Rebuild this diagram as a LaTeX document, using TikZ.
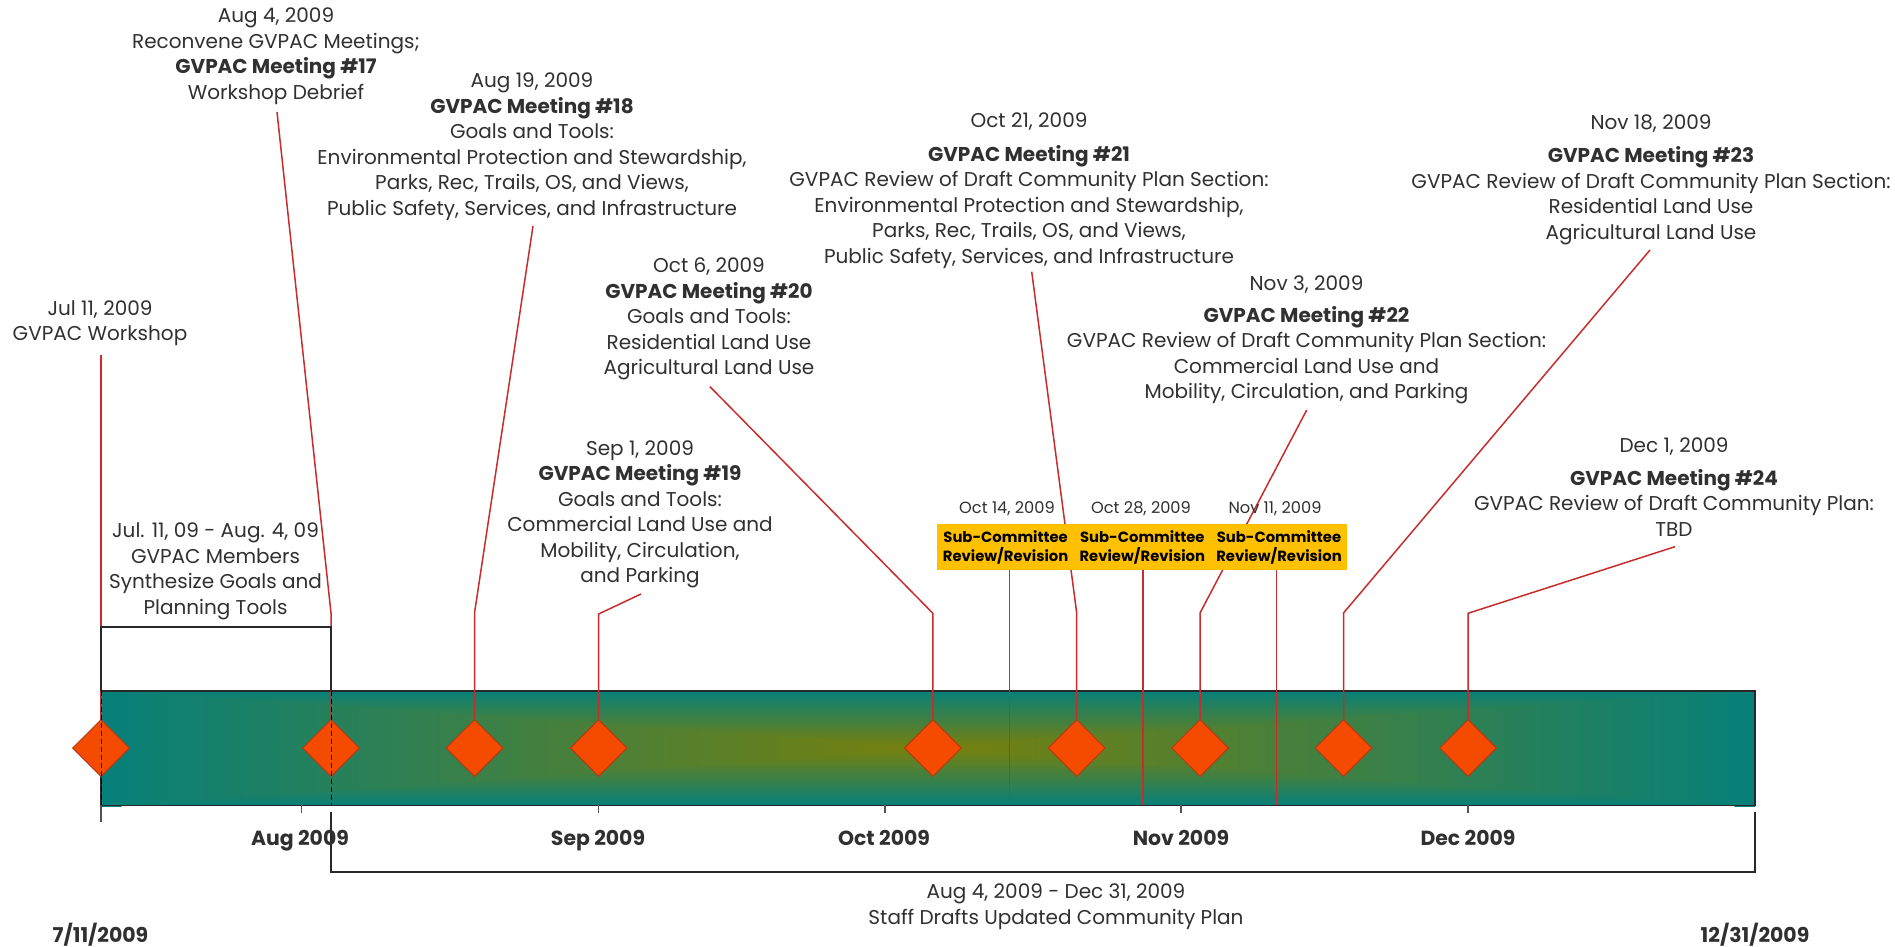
\documentclass[tikz,border=0pt]{standalone}
\usepackage{fontspec}
\setmainfont{Poppins}
\usetikzlibrary{shapes.geometric}
\definecolor{teal0}{RGB}{6,128,122}
\definecolor{olive0}{RGB}{120,128,12}
\definecolor{linered}{RGB}{200,45,45}
\definecolor{diafill}{RGB}{244,75,0}
\definecolor{diaborder}{RGB}{185,55,20}
\definecolor{gold}{RGB}{255,192,0}
\definecolor{txt}{RGB}{48,48,48}
\definecolor{edgecol}{RGB}{40,40,40}
\newcommand{\fsreg}{\fontsize{10}{12.75}\selectfont}
\newcommand{\fssmall}{\fontsize{8.1}{9.4}\selectfont}
\newcommand{\fsboxt}{\fontsize{7.4}{9.4}\selectfont\bfseries}
\newcommand{\fsaxis}{\fontsize{10.2}{12.6}\selectfont\bfseries}
\begin{document}
\begin{tikzpicture}[x=0.5pt,y=-0.5pt,
  blk/.style={align=center,inner sep=0pt,text=txt,font=\fsreg,anchor=north},
  smalllbl/.style={inner sep=0pt,text=txt,font=\fssmall,anchor=base},
  axislbl/.style={inner sep=0pt,text=txt,font=\fsaxis,anchor=base},
  conn/.style={draw=linered,line width=0.75pt},
  diam/.style={diamond,aspect=1,minimum width=28.5pt,minimum height=28.5pt,inner sep=0pt,fill=diafill,draw=diaborder,line width=0.5pt},
  scbox/.style={rectangle,fill=gold,minimum width=68.4pt,minimum height=22.85pt,inner sep=0pt,align=center,font=\fsboxt,text=black},
  bracket/.style={draw=edgecol,line width=1pt},
  tick/.style={draw=edgecol!80,line width=0.6pt},
  dashln/.style={draw=black,line width=0.5pt,dash pattern=on 2.5pt off 1.5pt}]
\useasboundingbox (0,0) rectangle (1895,947);
\fill[white] (0,0) rectangle (1895,947);

% ---- timeline bar: rectangular (path) gradient, teal edges, olive centre
\foreach \i in {0,...,39}{
  \pgfmathsetmacro{\ya}{691+\i*114.7/40}
  \pgfmathsetmacro{\yb}{691+(\i+1)*114.7/40+0.4}
  \pgfmathsetmacro{\aa}{abs((\i+0.5)/20-1)}
  \pgfmathsetmacro{\pp}{100*(1-\aa)}
  \pgfmathsetmacro{\xl}{928-\aa*827}
  \pgfmathsetmacro{\xr}{928+\aa*827}
  \colorlet{midc}{olive0!\pp!teal0}
  \shade[left color=teal0,right color=midc] (101,\ya) rectangle (\xl,\yb);
  \fill[midc] (\xl-0.3,\ya) rectangle (\xr+0.3,\yb);
  \shade[left color=midc,right color=teal0] (\xr,\ya) rectangle (1755,\yb);
}
\draw[edgecol,line width=0.75pt] (101,691) rectangle (1755,805.7);

% ---- text blocks
\node[blk] (t1) at (100,300) {Jul 11, 2009\\GVPAC Workshop};
\node[blk] (t2) at (276,7.5) {Aug 4, 2009\\Reconvene GVPAC Meetings;\\\textbf{GVPAC Meeting \#17}\\Workshop Debrief};
\node[blk] (t3) at (532,72.5) {Aug 19, 2009\\\textbf{GVPAC Meeting \#18}\\Goals and Tools:\\Environmental Protection and Stewardship,\\Parks, Rec, Trails, OS, and Views,\\Public Safety, Services, and Infrastructure};
\node[blk] (t4) at (640,440) {Sep 1, 2009\\\textbf{GVPAC Meeting \#19}\\Goals and Tools:\\Commercial Land Use and\\Mobility, Circulation,\\and Parking};
\node[blk] (t5) at (709,257.5) {Oct 6, 2009\\\textbf{GVPAC Meeting \#20}\\Goals and Tools:\\Residential Land Use\\Agricultural Land Use};
\node[blk] (t6) at (1029,112.5) {Oct 21, 2009\\[4pt]\textbf{GVPAC Meeting \#21}\\GVPAC Review of Draft Community Plan Section:\\Environmental Protection and Stewardship,\\Parks, Rec, Trails, OS, and Views,\\Public Safety, Services, and Infrastructure};
\node[blk] (t7) at (1306.5,275.8) {Nov 3, 2009\\[3pt]\textbf{GVPAC Meeting \#22}\\GVPAC Review of Draft Community Plan Section:\\Commercial Land Use and\\Mobility, Circulation, and Parking};
\node[blk] (t8) at (1651,114.2) {Nov 18, 2009\\[4pt]\textbf{GVPAC Meeting \#23}\\GVPAC Review of Draft Community Plan Section:\\Residential Land Use\\Agricultural Land Use};
\node[blk] (t9) at (1674,437.5) {Dec 1, 2009\\[3.5pt]\textbf{GVPAC Meeting \#24}\\GVPAC Review of Draft Community Plan:\\TBD};
\node[blk] (range) at (215.5,522.5) {Jul. 11, 09 - Aug. 4, 09\\GVPAC Members\\Synthesize Goals and\\Planning Tools};
\node[blk] (staff) at (1056,883.5) {Aug 4, 2009 - Dec 31, 2009\\Staff Drafts Updated Community Plan};

% ---- diamonds (positions)
\coordinate (p1) at (101,748);
\coordinate (p2) at (331,748);
\coordinate (p3) at (474.5,748);
\coordinate (p4) at (598.6,748);
\coordinate (p5) at (932.9,748);
\coordinate (p6) at (1076.7,748);
\coordinate (p7) at (1200,748);
\coordinate (p8) at (1343.5,748);
\coordinate (p9) at (1468,748);

% ---- connector ends and bends
\coordinate (s1) at (101,355);
\coordinate (s2) at (277,112);   \coordinate (b2) at (331,613);
\coordinate (s3) at (533,226);   \coordinate (b3) at (474.5,613);
\coordinate (s4) at (641,594);   \coordinate (b4) at (598.6,614);
\coordinate (s5) at (710,386.7); \coordinate (b5) at (932.9,613.3);
\coordinate (s6) at (1031.7,271.7); \coordinate (b6) at (1076.7,613);
\coordinate (s7) at (1306.7,410); \coordinate (b7) at (1200,613);
\coordinate (s8) at (1650,250);  \coordinate (b8) at (1343.5,613);
\coordinate (s9) at (1675,546.7); \coordinate (b9) at (1468,613.3);

% ---- range bracket above bar
\coordinate (r1) at (101,691);
\coordinate (r2) at (331,691);

% ---- connectors
\draw[conn] (s1) -- (p1);
\draw[conn] (s2) -- (b2) -- (p2);
\draw[conn] (s3) -- (b3) -- (p3);
\draw[conn] (s4) -- (b4) -- (p4);
\draw[conn] (s5) -- (b5) -- (p5);
\draw[conn] (s6) -- (b6) -- (p6);
\draw[conn] (s7) -- (b7) -- (p7);
\draw[conn] (s8) -- (b8) -- (p8);
\draw[conn] (s9) -- (b9) -- (p9);

\draw[bracket] (r1) -- (101,626.7) -- (331,626.7) -- (r2);

% ---- sub-committee boxes
\node[smalllbl] (sd1) at (1007,513) {Oct 14, 2009};
\node[smalllbl] (sd2) at (1141,513) {Oct 28, 2009};
\node[smalllbl] (sd3) at (1275,513) {Nov 11, 2009};
\node[scbox] (sc1) at (1005.6,547.2) {Sub-Committee\\Review/Revision};
\node[scbox] (sc2) at (1142.3,547.2) {Sub-Committee\\Review/Revision};
\node[scbox] (sc3) at (1279,547.2) {Sub-Committee\\Review/Revision};
\coordinate (e1) at (1009.3,805);
\coordinate (e2) at (1143,805);
\coordinate (e3) at (1276.7,805);
\draw[conn] (sc1.south -| e1) -- (e1);
\draw[conn] (sc2.south -| e2) -- (e2);
\draw[conn] (sc3.south -| e3) -- (e3);

% ---- diamonds
\node[diam] (d1) at (p1) {};
\node[diam] (d2) at (p2) {};
\node[diam] (d3) at (p3) {};
\node[diam] (d4) at (p4) {};
\node[diam] (d5) at (p5) {};
\node[diam] (d6) at (p6) {};
\node[diam] (d7) at (p7) {};
\node[diam] (d8) at (p8) {};
\node[diam] (d9) at (p9) {};

% ---- dashed date markers
\draw[dashln] (101,691) -- (101,805);
\draw[dashln] (331,691) -- (331,805);

% ---- axis ticks
\draw[tick] (101,805) -- (101,822);
\draw[tick] (301.5,805) -- (301.5,813);
\draw[tick] (598.7,805) -- (598.7,813);
\draw[tick] (885,805) -- (885,813);
\draw[tick] (1181,805) -- (1181,813);
\draw[tick] (1468,805) -- (1468,813);

% ---- bottom bracket
\draw[bracket] (331,812) -- (331,872) -- (1755,872) -- (1755,812);

% ---- axis labels
\node[axislbl] (m1) at (300,845.5) {Aug 2009};
\node[axislbl] (m2) at (598,845.5) {Sep 2009};
\node[axislbl] (m3) at (884,845.5) {Oct 2009};
\node[axislbl] (m4) at (1181,845.5) {Nov 2009};
\node[axislbl] (m5) at (1468,845.5) {Dec 2009};
\node[axislbl] (start) at (100.5,942) {7/11/2009};
\node[axislbl] (end) at (1755,942) {12/31/2009};
\end{tikzpicture}
\end{document}
